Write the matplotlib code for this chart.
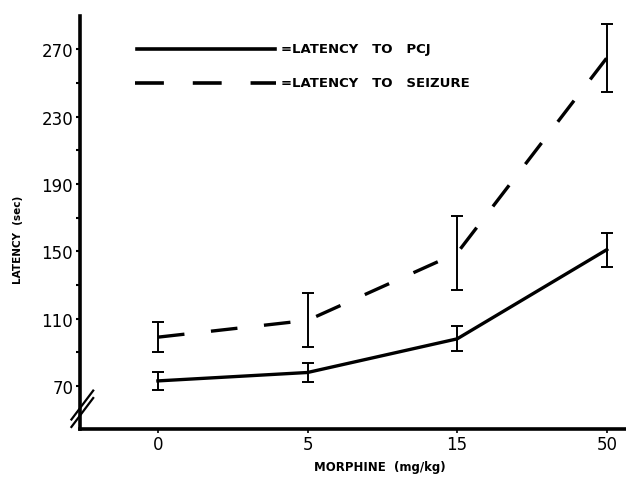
import matplotlib
matplotlib.use('Agg')
import matplotlib.pyplot as plt
from matplotlib.lines import Line2D

# data
doses = ['0', '5', '15', '50']
pcj_latency = [73, 78, 98, 151]
pcj_err = [5.5, 5.5, 7.5, 10]
seizure_latency = [99, 109, 149, 265]
seizure_err = [9, 16, 22, 20]
y_ticks = [70, 110, 150, 190, 230, 270]
y_minor = [90, 130, 170, 210, 250]

plt.rcParams['font.family'] = ['DejaVu Sans']

fig = plt.figure(figsize=(6.26, 4.81), dpi=100)
ax = fig.add_axes([0.128, 0.106, 0.87, 0.859])

x = list(range(len(doses)))

# latency to PCJ (solid)
ax.errorbar(x, pcj_latency, yerr=pcj_err, color='black', lw=2.4,
            elinewidth=1.4, capsize=4, capthick=1.4)
# latency to seizure (dashed)
ax.errorbar(x, seizure_latency, yerr=seizure_err, color='black', lw=2.4,
            ls=(0, (8, 8)), elinewidth=1.4, capsize=4, capthick=1.4)

ax.set_xlim(-0.52, 3.12)
ax.set_ylim(44.4, 290)
ax.set_xticks(x)
ax.set_xticklabels(doses, fontsize=12)
ax.set_yticks(y_ticks)
ax.set_yticklabels([str(v) for v in y_ticks], fontsize=12)
ax.set_yticks(y_minor, minor=True)
ax.tick_params(axis='y', which='both', direction='out', length=3, width=1.5, pad=2)
ax.tick_params(axis='x', direction='out', length=3, width=1.2, pad=1)

for s in ['top', 'right']:
    ax.spines[s].set_visible(False)
ax.spines['left'].set_linewidth(2.6)
ax.spines['bottom'].set_linewidth(2.6)

# axis break marks
for dy in (0.0, 0.018):
    ax.plot([-0.016, 0.024], [0.005 + dy, 0.075 + dy], transform=ax.transAxes,
            color='black', lw=1.6, clip_on=False)

ax.set_ylabel('LATENCY  (sec)', fontsize=7.5, fontweight='bold')
ax.yaxis.set_label_coords(-0.105, 0.46)
ax.set_xlabel('MORPHINE  (mg/kg)', fontsize=8.5, fontweight='bold')
ax.xaxis.set_label_coords(0.55, -0.075)

# hand drawn key
ax.add_line(Line2D([0.104, 0.357], [0.920, 0.920], transform=ax.transAxes,
                   color='black', lw=2.6))
ax.add_line(Line2D([0.101, 0.359], [0.838, 0.838], transform=ax.transAxes,
                   color='black', lw=2.6, ls=(0, (8, 8))))
ax.text(0.368, 0.920, '=LATENCY   TO   PCJ', transform=ax.transAxes,
        fontsize=9.5, fontweight='bold', va='center')
ax.text(0.368, 0.838, '=LATENCY   TO   SEIZURE', transform=ax.transAxes,
        fontsize=9.5, fontweight='bold', va='center')

fig.savefig('out.png', dpi=100)
